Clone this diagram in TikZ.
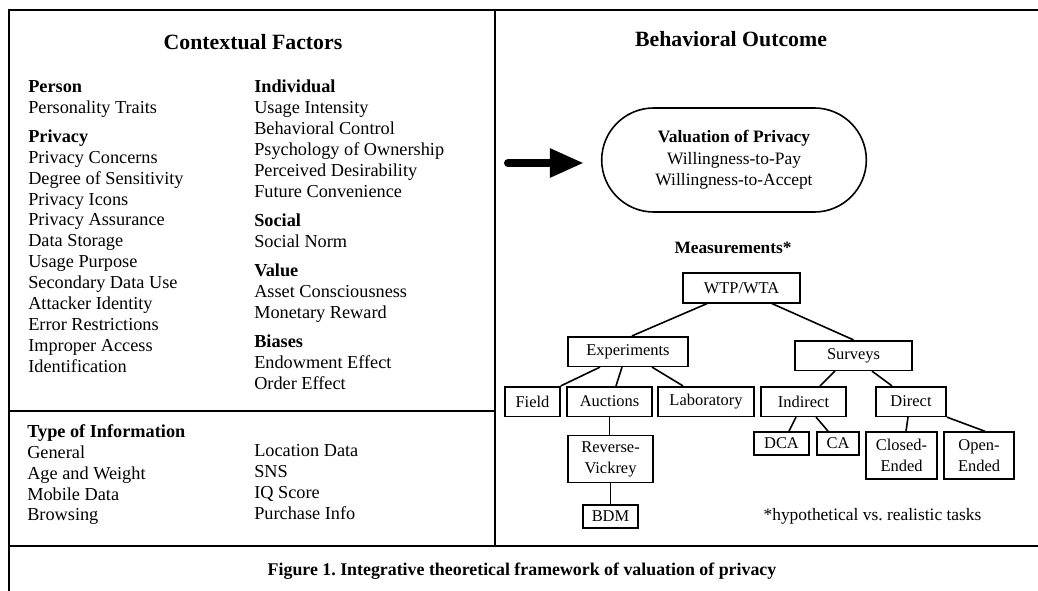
\documentclass[tikz,border=0pt]{standalone}
\usepackage{fontspec}
\setmainfont{Liberation Serif}
\usetikzlibrary{arrows.meta,calc,shapes.misc}
\frenchspacing

\tikzset{
  panelline/.style = {line width=0.5mm},
  heading/.style   = {font=\bfseries\fontsize{15.5}{18}\selectfont},
  factors/.style   = {anchor=north west, align=left, inner sep=0pt,
                      font=\fontsize{13}{14.9}\selectfont},
  outcome/.style   = {shape=rounded rectangle, draw, line width=0.4mm,
                      align=center, minimum width=68.5mm, minimum height=26mm,
                      font=\fontsize{12.4}{15.3}\selectfont},
  measure/.style   = {shape=rectangle, draw, line width=0.4mm, align=center,
                      inner sep=0pt, minimum height=7.4mm,
                      font=\fontsize{11.7}{15}\selectfont},
  leaf/.style      = {measure, minimum height=5.8mm},
  twoline/.style   = {measure, minimum height=11.7mm},
  link/.style      = {line width=0.4mm},
  bigarrow/.style  = {line width=2mm, line cap=round,
                      -{Triangle[length=8.5mm, width=6.8mm]}}
}

\begin{document}
\begin{tikzpicture}[x=0.25mm, y=-0.25mm]
\path[use as bounding box, clip] (0,0) rectangle (1038,590);

\draw[panelline] (9,600) -- (9,10) -- (1050,10);
\draw[panelline] (495,10) -- (495,546);
\draw[panelline] (9,411) -- (495,411);
\draw[panelline] (9,546) -- (1050,546);

% contextual factors
\node[heading] (context) at (253,42) {Contextual Factors};
\node[factors] (personcol) at (28,80) {
  \textbf{Person}\\ Personality Traits\\[5.7pt]
  \textbf{Privacy}\\ Privacy Concerns\\ Degree of Sensitivity\\ Privacy Icons\\
  Privacy Assurance\\ Data Storage\\ Usage Purpose\\ Secondary Data Use\\
  Attacker Identity\\ Error Restrictions\\ Improper Access\\ Identification};
\node[factors] (individualcol) at (254,80) {
  \textbf{Individual}\\ Usage Intensity\\ Behavioral Control\\
  Psychology of Ownership\\ Perceived Desirability\\ Future Convenience\\[5.7pt]
  \textbf{Social}\\ Social Norm\\[5.7pt]
  \textbf{Value}\\ Asset Consciousness\\ Monetary Reward\\[5.7pt]
  \textbf{Biases}\\ Endowment Effect\\ Order Effect};
\node[factors] (infotype) at (27,424) {
  \textbf{Type of Information}\\ General\\ Age and Weight\\ Mobile Data\\ Browsing};
\node[factors] (infomore) at (254,444) {
  Location Data\\ SNS\\ IQ Score\\ Purchase Info};

% behavioral outcome
\node[heading] (behavior) at (731,39.5) {Behavioral Outcome};
\node[outcome] (valuation) at (734,160) {
  \textbf{Valuation of Privacy}\\ Willingness-to-Pay\\ Willingness-to-Accept};
\coordinate (arrowtail) at (508,163);
\draw[bigarrow] (arrowtail) -- ($(valuation.west)+(-17,3)$);

\node[heading, font=\bfseries\fontsize{12.3}{14}\selectfont] (measurements)
  at (733,248) {Measurements*};

\node[measure, minimum width=29.25mm] (wtp)    at (741.5,288)  {WTP/WTA};
\node[measure, minimum width=30mm]    (expt)   at (628,351.5)  {Experiments};
\node[measure, minimum width=29.25mm] (surv)   at (853.5,355.5){Surveys};
\node[measure, minimum width=13.75mm] (field)  at (532.5,401.5){Field};
\node[measure, minimum width=21.25mm] (auct)   at (609.5,401.5){Auctions};
\node[measure, minimum width=24mm]    (lab)    at (706,401.5)  {Laboratory};
\node[measure, minimum width=21.25mm] (indir)  at (803.5,401.5){Indirect};
\node[measure, minimum width=17.5mm]  (dir)    at (911,401.5)  {Direct};
\node[leaf, minimum width=13.75mm]    (dca)    at (781.5,443.5){DCA};
\node[leaf, minimum width=10.5mm]     (ca)     at (838,443.5)  {CA};
\node[twoline, minimum width=17.75mm] (closed) at (901.5,455.5){Closed-\\Ended};
\node[twoline, minimum width=17.5mm]  (open)   at (979,455.5)  {Open-\\Ended};
\node[twoline, minimum width=21.25mm] (rv)     at (610.5,459)  {Reverse-\\Vickrey};
\node[leaf, minimum width=13.75mm]    (bdm)    at (610.5,516.5){BDM};

\draw[link] ($(wtp.south)+(-34.5,0)$) -- ($(expt.north)+(4,0)$);
\draw[link] ($(wtp.south)+(30.5,0)$) -- (surv.north);
\draw[link] ($(expt.south)+(-28,0)$) -- (field.north east);
\draw[link] ($(expt.south)+(-6,0)$) -- ($(auct.north)+(6.5,0)$);
\draw[link] ($(expt.south)+(24,0)$) -- ($(lab.north)+(-23,0)$);
\draw[link] ($(surv.south)+(-18.5,0)$) -- ($(indir.north)+(16.5,0)$);
\draw[link] ($(surv.south)+(18.5,0)$) -- ($(dir.north)+(-19,0)$);
\draw[link] ($(indir.south)+(-7.5,0)$) -- ($(dca.north)+(7.5,0)$);
\draw[link] ($(indir.south)+(12.5,0)$) -- ($(ca.north)+(-10,0)$);
\draw[link] ($(dir.south)+(-3,0)$) -- ($(closed.north)+(4.5,0)$);
\draw[link] (dir.south east) -- ($(open.north)+(6,0)$);
\draw[link] (auct.south) -- (auct.south |- rv.north);
\draw[link] (rv.south) -- (bdm.north);

\node[anchor=base, font=\fontsize{12.4}{14}\selectfont] (footnote)
  at (872.5,520) {*hypothetical vs. realistic tasks};

% caption
\node[anchor=base, font=\bfseries\fontsize{12.7}{15}\selectfont] (caption)
  at (522,575) {Figure 1. Integrative theoretical framework of valuation of privacy};
\end{tikzpicture}
\end{document}
